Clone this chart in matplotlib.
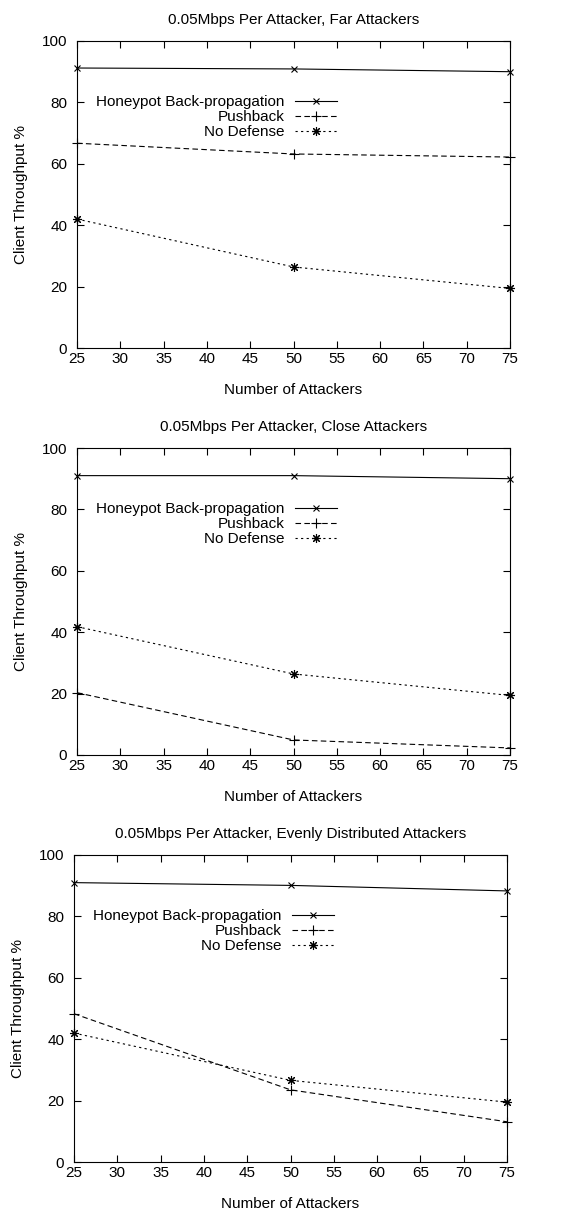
import numpy as np
import matplotlib
matplotlib.use("Agg")
import matplotlib.pyplot as plt

plt.rcParams["font.family"] = ["Liberation Sans", "DejaVu Sans"]
plt.rcParams["font.size"] = 11

# ── data ─────────────────────────────────────────────
attackers = [25, 50, 75]

titles = [
    "0.05Mbps Per Attacker, Far Attackers",
    "0.05Mbps Per Attacker, Close Attackers",
    "0.05Mbps Per Attacker, Evenly Distributed Attackers",
]

honeypot = [
    [91.2, 90.9, 90.0],
    [91.0, 91.0, 90.0],
    [91.0, 90.1, 88.3],
]
pushback = [
    [66.7, 63.2, 62.2],
    [20.3, 4.9, 2.3],
    [48.3, 23.5, 13.1],
]
no_defense = [
    [42.0, 26.4, 19.4],
    [41.8, 26.4, 19.4],
    [42.0, 26.6, 19.5],
]

series_labels = ["Honeypot Back-propagation", "Pushback", "No Defense"]

# ── layout (pixels: left, right, top, bottom) ────────
W, H = 565, 1213
boxes = [(77, 510, 41, 348), (77, 510, 448, 755), (74, 507, 855, 1162)]

fig = plt.figure(figsize=(W / 100, H / 100), dpi=100)

for k, (l, r, t, b) in enumerate(boxes):
    ax = fig.add_axes([l / W, 1 - b / H, (r - l) / W, (b - t) / H])
    ax.plot(attackers, honeypot[k], color="black", lw=0.8, ls="-",
            marker="x", ms=5, mew=0.8, label=series_labels[0], clip_on=False)
    ax.plot(attackers, pushback[k], color="black", lw=0.8, ls=(0, (5, 3)),
            marker="+", ms=6.5, mew=0.8, label=series_labels[1], clip_on=False)
    ax.plot(attackers, no_defense[k], color="black", lw=0.8, ls=(0, (2, 3)),
            marker=(8, 2, 0), ms=6.5, mew=0.8, label=series_labels[2], clip_on=False)

    ax.set_xlim(25, 75)
    ax.set_ylim(0, 100)
    ax.set_xticks(range(25, 80, 5))
    ax.set_yticks(range(0, 120, 20))
    ax.tick_params(direction="in", top=True, right=True, length=5,
                   width=0.8, labelsize=11)
    ax.tick_params(axis="x", pad=3)
    ax.tick_params(axis="y", pad=7)
    for s in ax.spines.values():
        s.set_linewidth(0.8)

    ax.set_title(titles[k], fontsize=11, pad=12)
    ax.set_xlabel("Number of Attackers", fontsize=11, labelpad=12)
    ax.set_ylabel("Client Throughput %", fontsize=11, labelpad=10)

    ax.legend(loc="upper right", bbox_to_anchor=(0.60, 0.823),
              markerfirst=False, frameon=False, fontsize=11,
              handlelength=2.75, handletextpad=0.65, labelspacing=0.05,
              borderaxespad=0, borderpad=0)

fig.savefig("out.png", dpi=100)
